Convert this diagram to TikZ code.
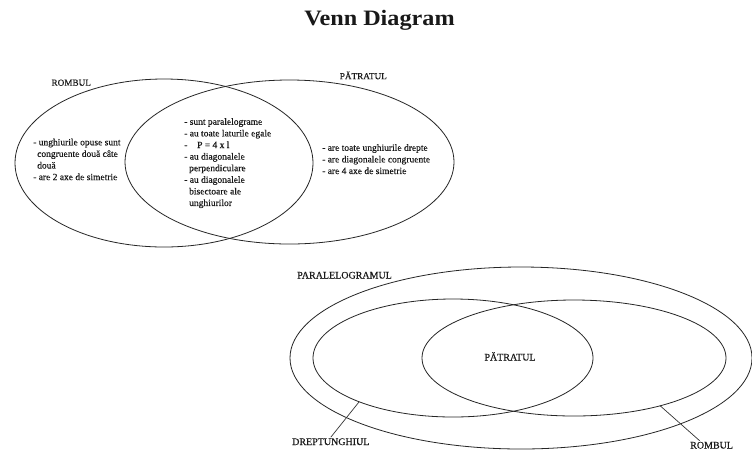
\documentclass[tikz,border=0pt]{standalone}
\usepackage{fontspec}
\setmainfont{Liberation Serif}
\newfontfamily\scanfont[FakeBold=0.35]{Liberation Serif}
\usepackage{graphicx}
\usetikzlibrary{shapes.geometric}
\begin{document}
\begin{tikzpicture}[x=1pt,y=-1pt,
  venn/.style={draw=black!85, line width=0.8pt, ellipse, inner sep=0pt, outer sep=0pt},
  setlabel/.style={font=\scanfont\fontsize{9.2}{11}\selectfont, text=black!90, inner sep=1pt},
  biglabel/.style={font=\scanfont\fontsize{10}{12}\selectfont, text=black!90, inner sep=1pt},
  notes/.style={font=\scanfont\fontsize{9.5}{11.6}\selectfont, align=left, text=black!90, inner sep=0pt, anchor=north west},
  leader/.style={draw=black!80, line width=0.7pt}]
\useasboundingbox (0,0) rectangle (752,451);
\fill[white] (0,0) rectangle (752,451);

\node[font=\bfseries\fontsize{22}{26}\selectfont, text=black!90, anchor=base] (title) at (379.5,25) {\scalebox{1.1}[1]{Venn Diagram}};

% top diagram
\node[venn, minimum width=298pt, minimum height=168pt] (rombA) at (164,163) {};
\node[venn, minimum width=329pt, minimum height=164pt] (patA) at (289.5,162) {};

\node[setlabel, anchor=base] (rombAlbl) at (71.2,85.7) {ROMBUL};
\node[setlabel, anchor=base] (patAlbl) at (363.3,79.2) {PĂTRATUL};

\node[notes] (leftnotes) at (33,138.5) {- unghiurile opuse sunt\\\hspace*{4pt}congruente două câte\\\hspace*{4pt}două\\- are 2 axe de simetrie};
\node[notes] (midnotes) at (184,118) {- sunt paralelograme\\- au toate laturile egale\\-\hspace*{9.8pt}P = 4 x l\\- au diagonalele\\\hspace*{5pt}perpendiculare\\- au diagonalele\\\hspace*{5pt}bisectoare ale\\\hspace*{5pt}unghiurilor};
\node[notes] (rightnotes) at (322,144) {- are toate unghiurile drepte\\- are diagonalele congruente\\- are 4 axe de simetrie};

% bottom diagram
\node[venn, minimum width=462pt, minimum height=182pt] (paral) at (521,358) {};
\node[venn, minimum width=280pt, minimum height=118pt] (drept) at (453,358) {};
\node[venn, minimum width=304pt, minimum height=116pt] (rombB) at (574,358) {};

\node[biglabel, anchor=base west] (parallbl) at (296,278.5) {PARALELOGRAMUL};
\node[biglabel, anchor=base west] (dreptlbl) at (291,445) {DREPTUNGHIUL};
\node[biglabel, anchor=base west] (rombBlbl) at (689,448.5) {ROMBUL};
\node[biglabel, anchor=base] (patBlbl) at (510,360.5) {PĂTRATUL};

\draw[leader] (drept.205.8) -- (dreptlbl.north);
\draw[leader] (rombB.331.7) -- ([xshift=-12pt]rombBlbl.north);
\end{tikzpicture}
\end{document}
